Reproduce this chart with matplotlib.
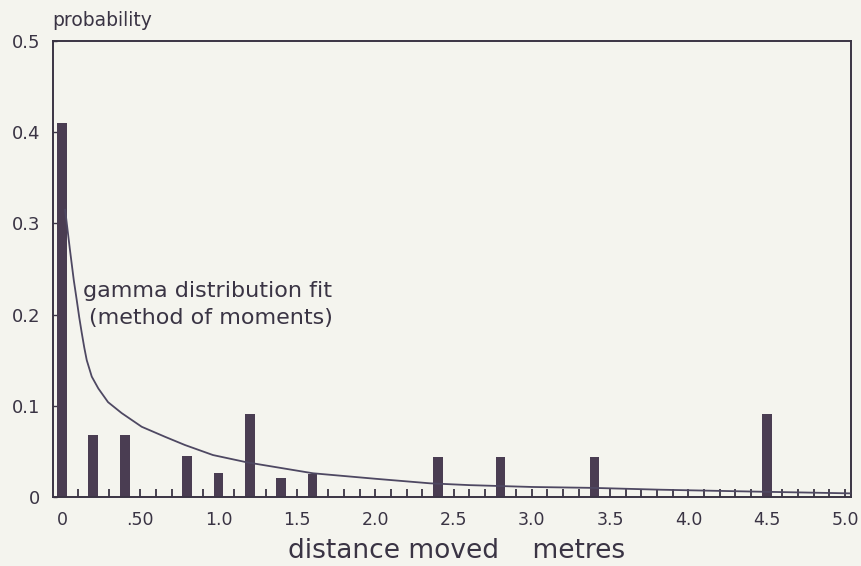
import matplotlib
matplotlib.use("Agg")
import matplotlib.pyplot as plt
from matplotlib.ticker import MultipleLocator, FixedLocator

# ---- data ----
bar_x = [0.0, 0.2, 0.4, 0.8, 1.0, 1.2, 1.4, 1.6, 2.4, 2.8, 3.4, 4.5]
bar_p = [0.410, 0.068, 0.068, 0.045, 0.026, 0.091, 0.021, 0.025, 0.044, 0.044, 0.044, 0.091]

fit_x = [0.02, 0.05, 0.075, 0.094, 0.11, 0.126, 0.142, 0.158, 0.19, 0.232, 0.294,
         0.381, 0.509, 0.658, 0.785, 0.964, 1.181, 1.392, 1.603, 2.0, 2.35, 2.605,
         3.0, 3.39, 3.82, 4.4, 5.03]
fit_p = [0.315, 0.272, 0.238, 0.216, 0.197, 0.180, 0.164, 0.150, 0.132, 0.119, 0.104,
         0.092, 0.077, 0.066, 0.057, 0.046, 0.038, 0.032, 0.026, 0.020, 0.015, 0.013,
         0.011, 0.010, 0.008, 0.006, 0.004]

x_ticks = [0, 0.5, 1.0, 1.5, 2.0, 2.5, 3.0, 3.5, 4.0, 4.5, 5.0]
x_tick_labels = ["0", ".50", "1.0", "1.5", "2.0", "2.5", "3.0", "3.5", "4.0", "4.5", "5.0"]
y_ticks = [0, 0.1, 0.2, 0.3, 0.4, 0.5]
y_tick_labels = ["0", "0.1", "0.2", "0.3", "0.4", "0.5"]

bg = "#f4f4ee"
ink = "#3a3444"
bar_col = "#4a3d52"
line_col = "#4e4862"

plt.rcParams['font.family'] = ['DejaVu Sans']

fig = plt.figure(figsize=(8.61, 5.66), dpi=100, facecolor=bg)
ax = fig.add_axes([53/861, 69/566, (851-53)/861, (497-41)/566])
ax.set_facecolor(bg)

ax.bar(bar_x, bar_p, width=0.062, color=bar_col, edgecolor='none', zorder=2)
ax.plot(fit_x, fit_p, color=line_col, lw=1.3, zorder=3, solid_joinstyle='round')

ax.set_xlim(-0.0575, 5.038)
ax.set_ylim(0, 0.5)

ax.xaxis.set_major_locator(FixedLocator(x_ticks))
ax.set_xticklabels(x_tick_labels)
ax.xaxis.set_minor_locator(MultipleLocator(0.1))
ax.yaxis.set_major_locator(FixedLocator(y_ticks))
ax.set_yticklabels(y_tick_labels)

ax.tick_params(axis='x', which='both', direction='in', length=6, width=1.3,
               color=ink, labelsize=12.5, labelcolor=ink, pad=10)
ax.tick_params(axis='y', which='both', direction='in', length=3, width=1.0,
               color=ink, labelsize=13, labelcolor=ink, pad=9)
for s in ax.spines.values():
    s.set_color(ink)
    s.set_linewidth(1.4)

fig.text(52/861, 1 - 21/566, "probability", fontsize=13.5, color=ink,
         ha='left', va='center')
ax.text(0.135, 0.226, "gamma distribution fit", fontsize=16, color=ink,
        ha='left', va='center')
ax.text(0.17, 0.196, "(method of moments)", fontsize=16, color=ink,
        ha='left', va='center')
fig.text(457/861, 1 - 551/566, "distance moved    metres", fontsize=19,
         color=ink, ha='center', va='center')

fig.savefig("out.png", dpi=100, facecolor=bg)
